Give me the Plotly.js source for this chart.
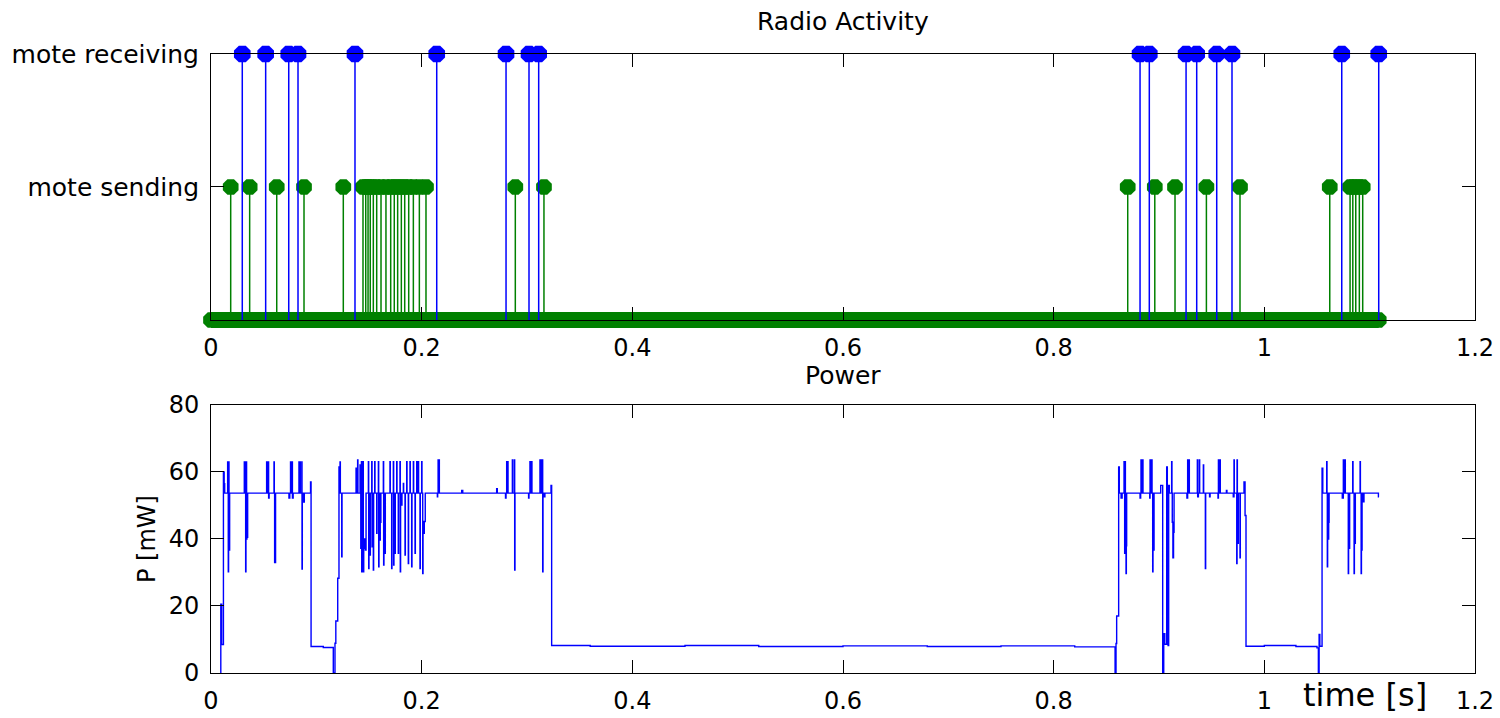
<!DOCTYPE html>
<html>
<head>
<meta charset="utf-8">
<script src="https://cdn.plot.ly/plotly-3.0.1.min.js"></script>
<style>html,body{margin:0;padding:0;background:#fff;}#chart{width:1500px;height:718px;}</style>
</head>
<body>
<div id="chart"></div>
<script>
// ---------- DATA ----------
// Radio activity events (time in s)
const sendTimes = [0.0187, 0.0367, 0.0624, 0.0883, 0.1256, 0.1443, 0.1469, 0.1491, 0.1512, 0.1541, 0.1573,
  0.1614, 0.1661, 0.1706, 0.1740, 0.1772, 0.1807, 0.1839, 0.1877, 0.1921, 0.1978, 0.2041, 0.2889, 0.3161,
  0.8703, 0.8960, 0.9152, 0.9450, 0.9769, 1.0621, 1.0814, 1.0840, 1.0868, 1.0902, 1.0934];
const recvTimes = [0.0297, 0.0519, 0.0738, 0.0826, 0.1367, 0.2143, 0.2801, 0.3019, 0.3111,
  0.8820, 0.8908, 0.9257, 0.9358, 0.9548, 0.9693, 1.0735, 1.1086];
const activityLevels = {sending: 1, receiving: 2};
const activityLabels = ['mote sending', 'mote receiving'];
const recordStart = 0;
const recordEnd = 1.1086;

// Power trace (time in s, power in mW)
const powerTime = [
  0.0092, 0.0093, 0.0101, 0.0118, 0.0125, 0.0130, 0.0158, 0.0161, 0.0164, 0.0167, 0.0171, 0.0174, 0.0177,
  0.0316, 0.0319, 0.0326, 0.0329, 0.0332, 0.0335, 0.0338, 0.0341, 0.0344, 0.0348,
  0.0528, 0.0531, 0.0544, 0.0547, 0.0552, 0.0598, 0.0601, 0.0604, 0.0607, 0.0610, 0.0613,
  0.0740, 0.0748, 0.0755, 0.0758, 0.0770, 0.0773, 0.0780, 0.0835, 0.0838, 0.0845, 0.0848, 0.0862, 0.0864, 0.0867,
  0.0880, 0.0886, 0.0945, 0.0950, 0.1066, 0.1161, 0.1177, 0.1185, 0.1203, 0.1215, 0.1225, 0.1228, 0.1241, 0.1244,
  0.1377, 0.1380, 0.1392, 0.1395, 0.1415, 0.1418, 0.1422, 0.1428, 0.1431, 0.1436, 0.1443, 0.1446, 0.1450, 0.1458,
  0.1466, 0.1472, 0.1494, 0.1497, 0.1500, 0.1510, 0.1513, 0.1526, 0.1529, 0.1532, 0.1541, 0.1544, 0.1554, 0.1557,
  0.1573, 0.1576, 0.1589, 0.1592, 0.1595, 0.1604, 0.1607, 0.1613, 0.1636, 0.1639, 0.1642, 0.1652, 0.1655,
  0.1699, 0.1702, 0.1715, 0.1718, 0.1731, 0.1734, 0.1737, 0.1747, 0.1750, 0.1763, 0.1766, 0.1778, 0.1781,
  0.1794, 0.1797, 0.1800, 0.1810, 0.1813, 0.1826, 0.1829, 0.1842, 0.1845, 0.1858, 0.1861, 0.1873, 0.1876,
  0.1889, 0.1892, 0.1905, 0.1908, 0.1921, 0.1924, 0.1937, 0.1940, 0.1953, 0.1956, 0.1968, 0.1971, 0.1984, 0.1987,
  0.2000, 0.2003, 0.2010, 0.2013, 0.2019, 0.2025, 0.2034, 0.2149, 0.2152, 0.2156, 0.2159, 0.2165, 0.2168,
  0.2380, 0.2390, 0.2712, 0.2718, 0.2796, 0.2801, 0.2807, 0.2810, 0.2817, 0.2820, 0.2861, 0.2864, 0.2880, 0.2883, 0.2886,
  0.3015, 0.3019, 0.3028, 0.3031, 0.3044, 0.3047, 0.3123, 0.3126, 0.3133, 0.3136, 0.3146, 0.3149, 0.3152,
  0.3165, 0.3170, 0.3228, 0.3234, 0.3600, 0.4500, 0.5200, 0.6000, 0.6800, 0.7500, 0.8200,
  0.8583, 0.8592, 0.8598, 0.8617, 0.8623, 0.8640, 0.8650, 0.8668, 0.8671, 0.8674, 0.8678, 0.8681, 0.8687, 0.8690, 0.8693,
  0.8820, 0.8826, 0.8829, 0.8832, 0.8845, 0.8848, 0.8912, 0.8915, 0.8918, 0.8931, 0.8934, 0.8940, 0.8943, 0.8950, 0.8953,
  0.9016, 0.9035, 0.9045, 0.9055, 0.9073, 0.9079, 0.9086, 0.9092, 0.9098, 0.9120, 0.9123, 0.9126, 0.9132, 0.9138, 0.9143,
  0.9265, 0.9272, 0.9275, 0.9285, 0.9288, 0.9364, 0.9367, 0.9374, 0.9383, 0.9386, 0.9421, 0.9424, 0.9440, 0.9443,
  0.9480, 0.9485, 0.9560, 0.9564, 0.9567, 0.9579, 0.9582, 0.9640, 0.9645,
  0.9705, 0.9712, 0.9715, 0.9738, 0.9741, 0.9744, 0.9750, 0.9753, 0.9769, 0.9772, 0.9807, 0.9817, 0.9826,
  1.0000, 1.0300, 1.0500, 1.0513, 1.0520, 1.0527, 1.0548, 1.0555, 1.0592, 1.0595, 1.0598, 1.0601, 1.0605, 1.0611, 1.0615,
  1.0740, 1.0750, 1.0753, 1.0766, 1.0769, 1.0797, 1.0800, 1.0807, 1.0810, 1.0839, 1.0842, 1.0852, 1.0855, 1.0861, 1.0864,
  1.0909, 1.0912, 1.0919, 1.0922, 1.0925, 1.0928, 1.0941, 1.0946, 1.1083, 1.1089];
const powerMw = [
  0, 20.5, 8.5, 60, 56.5, 53.7, 63, 53.7, 30.2, 63, 53.7, 36.7, 53.7,
  63, 53.7, 63, 30.2, 53.7, 63, 40, 45, 40.5, 53.7,
  63, 53.7, 63, 52.2, 53.7, 63, 53.7, 33, 45, 33, 53.7,
  52.2, 53.7, 63, 53.7, 63, 52.2, 53.7, 63, 53.7, 63, 53.7, 63, 31, 53.7,
  51, 53.7, 57, 7.9, 7.6, 0, 8.9, 15.5, 28.3, 61.5, 63, 53.7, 34.7, 53.7,
  61.1, 53.7, 63.6, 53.7, 62.1, 53.7, 37.2, 63.1, 30.2, 37.2, 63.1, 30.2, 37.2, 40,
  36.7, 53.7, 63.1, 31.2, 53.7, 35.2, 53.7, 63.1, 37.7, 53.7, 30.7, 53.7, 63.1, 53.7,
  41.7, 53.7, 63.1, 31.7, 53.7, 39.7, 45, 53.7, 63.1, 32.2, 53.7, 35.7, 53.7,
  63.1, 53.7, 31.2, 53.7, 63.1, 32.2, 53.7, 35.7, 53.7, 63.1, 53.7, 35.7, 53.7,
  63.1, 30.2, 53.7, 50.1, 53.7, 56.6, 53.7, 35.2, 53.7, 63.1, 53.7, 32.7, 53.7,
  63.1, 53.7, 31.7, 53.7, 63.1, 53.7, 35.7, 53.7, 63.1, 53.7, 63.1, 53.7, 31.2, 53.7,
  63.1, 53.7, 29.7, 45.2, 41.7, 45.2, 53.7, 52.6, 53.7, 63.6, 56, 63.6, 53.7,
  54.5, 53.7, 55, 53.7, 52.2, 53.7, 63.1, 53.7, 63.1, 53.7, 63.6, 53.7, 63.6, 30.7, 53.7,
  52.2, 53.7, 63.1, 53.7, 63.1, 53.7, 63.6, 53.7, 63.6, 53.7, 63.6, 30.2, 53.7,
  52.6, 53.7, 56, 8.2, 8.0, 8.2, 7.9, 8.1, 7.9, 8.1, 7.8,
  0, 8.8, 17, 61.5, 53.7, 52.2, 53.7, 63.1, 53.7, 35.7, 63.1, 40, 29.7, 38, 53.7,
  52.2, 53.7, 63.6, 53.7, 63.6, 53.7, 52.2, 63.6, 53.7, 63.6, 53.7, 30.2, 49, 36.7, 53.7,
  56, 0, 11.7, 8.6, 61.5, 56, 8.2, 56, 53.7, 63.1, 53.7, 45, 34.4, 42, 53.7,
  52.2, 63.6, 53.7, 63.6, 53.7, 63.6, 52.6, 53.7, 63.6, 53.7, 62.1, 53.7, 31.2, 53.7,
  52.6, 53.7, 52.2, 63.6, 53.7, 63.6, 53.7, 54.5, 53.7,
  52.6, 63.6, 53.7, 32.7, 63.6, 45, 38.7, 53.7, 34.4, 53.7, 57, 47, 8.0,
  8.2, 7.9, 7.5, 0, 11.5, 8.0, 61.1, 53.7, 63.1, 53.7, 31.7, 53.7, 40, 45, 53.7,
  52.2, 63.6, 53.7, 63.6, 53.7, 29.7, 53.7, 37.2, 53.7, 63.1, 53.7, 29.7, 53.7, 38.7, 53.7,
  63.1, 53.7, 29.7, 53.7, 36.7, 53.7, 51.1, 53.7, 52.6, 52.6];

const xTicks = [0, 0.2, 0.4, 0.6, 0.8, 1, 1.2];
const xTickText = ['0', '0.2', '0.4', '0.6', '0.8', '1', '1.2'];
const powerTicks = [0, 20, 40, 60, 80];

// ---------- BUILD ----------
function stems(times, level) {
  const x = [], y = [];
  times.forEach(t => { x.push(t, t, null); y.push(0, level, null); });
  return {x, y};
}
const BLUE = '#0000ff', GREEN = '#008000';
const FONT = 'DejaVu Sans, Liberation Sans, Arial, sans-serif';
const sendStem = stems(sendTimes, activityLevels.sending);
const recvStem = stems(recvTimes, activityLevels.receiving);

const traces = [
  {x: sendStem.x, y: sendStem.y, xaxis: 'x', yaxis: 'y', mode: 'lines', line: {color: GREEN, width: 1.5}, hoverinfo: 'skip'},
  {x: [recordStart, recordEnd], y: [0, 0], xaxis: 'x', yaxis: 'y', mode: 'markers', cliponaxis: false,
   marker: {symbol: 'octagon', size: 17, color: GREEN, line: {width: 0}}},
  {x: sendTimes, y: sendTimes.map(() => activityLevels.sending), xaxis: 'x', yaxis: 'y', mode: 'markers', cliponaxis: false,
   marker: {symbol: 'octagon', size: 17, color: GREEN, line: {width: 0}}},
  {x: recvStem.x, y: recvStem.y, xaxis: 'x', yaxis: 'y', mode: 'lines', line: {color: BLUE, width: 1.5}, hoverinfo: 'skip'},
  {x: recvTimes, y: recvTimes.map(() => activityLevels.receiving), xaxis: 'x', yaxis: 'y', mode: 'markers', cliponaxis: false,
   marker: {symbol: 'octagon', size: 18, color: BLUE, line: {width: 0}}},
  {x: powerTime, y: powerMw, xaxis: 'x2', yaxis: 'y2', mode: 'lines', line: {color: BLUE, width: 1.4, shape: 'hv'}}
];

const axBase = {
  showline: true, linecolor: '#000', linewidth: 1, mirror: 'ticks',
  ticks: 'inside', ticklen: 13, tickcolor: '#000', tickwidth: 1,
  showgrid: false, zeroline: false, tickfont: {family: FONT, size: 24, color: '#000'},
  ticklabelstandoff: 6
};

const layout = {
  width: 1500, height: 718,
  margin: {l: 211, r: 25, t: 54, b: 45},
  paper_bgcolor: '#fff', plot_bgcolor: '#fff',
  showlegend: false,
  font: {family: FONT, color: '#000'},
  xaxis: Object.assign({}, axBase, {anchor: 'y', domain: [0, 1], range: [0, 1.2], tickvals: xTicks, ticktext: xTickText}),
  yaxis: Object.assign({}, axBase, {anchor: 'x', domain: [0.5703, 1], range: [0, 2],
    tickvals: [activityLevels.sending, activityLevels.receiving], ticktext: activityLabels,
    tickfont: {family: FONT, size: 25, color: '#000'}}),
  xaxis2: Object.assign({}, axBase, {anchor: 'y2', domain: [0, 1], range: [0, 1.2], tickvals: xTicks, ticktext: xTickText}),
  yaxis2: Object.assign({}, axBase, {anchor: 'x2', domain: [0, 0.4330], range: [0, 80], tickvals: powerTicks}),
  shapes: [
    {type: 'line', xref: 'x', yref: 'y domain', x0: recordStart, x1: recordEnd, y0: 0, y1: 0,
     line: {color: GREEN, width: 16}, layer: 'below'}
  ],
  annotations: [
    {text: 'Radio Activity', xref: 'paper', yref: 'paper', x: 0.5, y: 1.0517, xanchor: 'center', yanchor: 'middle',
     showarrow: false, font: {family: FONT, size: 25, color: '#000'}},
    {text: 'Power', xref: 'paper', yref: 'paper', x: 0.5, y: 0.4814, xanchor: 'center', yanchor: 'middle',
     showarrow: false, font: {family: FONT, size: 25, color: '#000'}},
    {text: 'P [mW]', xref: 'paper', yref: 'paper', x: -0.0506, y: 0.2165, xanchor: 'center', yanchor: 'middle',
     textangle: -90, showarrow: false, font: {family: FONT, size: 24, color: '#000'}},
    {text: 'time [s]', xref: 'paper', yref: 'paper', x: 0.913, y: -0.0355, xanchor: 'center', yanchor: 'middle',
     showarrow: false, font: {family: FONT, size: 32, color: '#000'}}
  ]
};

Plotly.newPlot('chart', traces, layout, {staticPlot: true, displayModeBar: false});
</script>
</body>
</html>
